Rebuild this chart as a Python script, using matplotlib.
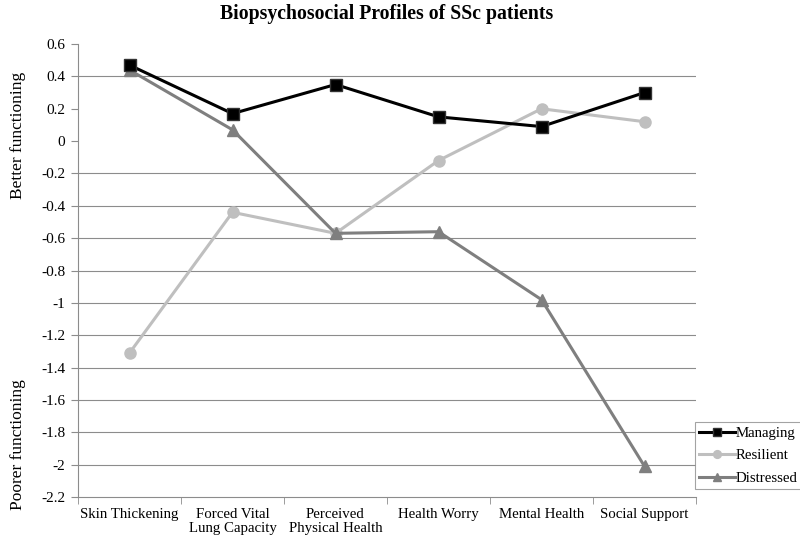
import matplotlib
matplotlib.use("Agg")
import matplotlib.pyplot as plt
import numpy as np

categories = ["Skin Thickening", "Forced Vital\nLung Capacity", "Perceived\nPhysical Health",
              "Health Worry", "Mental Health", "Social Support"]
managing = [0.47, 0.17, 0.35, 0.15, 0.09, 0.30]
resilient = [-1.31, -0.44, -0.57, -0.12, 0.20, 0.12]
distressed = [0.44, 0.07, -0.57, -0.56, -0.98, -2.01]
yticks = [0.6, 0.4, 0.2, 0, -0.2, -0.4, -0.6, -0.8, -1, -1.2, -1.4, -1.6, -1.8, -2, -2.2]
grid_vals = [0.4, -0.2, -0.4, -0.6, -0.8, -1, -1.2, -1.4, -1.6, -1.8, -2]

plt.rcParams['font.family'] = ['Liberation Serif', 'DejaVu Serif']

fig = plt.figure(figsize=(8, 5.44), dpi=100)
ax = fig.add_axes([0.0975, 0.0864, 0.7725, 0.8326])

x = np.arange(len(categories))
for g in grid_vals:
    ax.axhline(g, color='#8c8c8c', lw=0.8, zorder=0)

ax.plot(x, managing, color='black', lw=2.2, marker='s', ms=8, mfc='black', mec='#333333', label='Managing', zorder=4)
ax.plot(x, resilient, color='#bfbfbf', lw=2.2, marker='o', ms=8, mfc='#bfbfbf', mec='#bfbfbf', label='Resilient', zorder=3)
ax.plot(x, distressed, color='#7f7f7f', lw=2.2, marker='^', ms=8, mfc='#7f7f7f', mec='#7f7f7f', label='Distressed', zorder=3)

ax.set_xlim(-0.5, len(categories) - 0.5)
ax.set_ylim(-2.2, 0.6)
ax.set_yticks(yticks)
ax.set_yticklabels([f"{v:g}" for v in yticks], fontsize=11)
ax.set_xticks(x)
ax.set_xticklabels(categories, fontsize=10.7, linespacing=1.1)
ax.set_xticks(np.arange(-0.5, len(categories)), minor=True)
ax.tick_params(axis='x', which='major', length=0, pad=8)
ax.tick_params(axis='x', which='minor', length=5, color='#8c8c8c', direction='out')
ax.tick_params(axis='y', length=5, color='#8c8c8c', direction='out', pad=4)

for s in ['top', 'right']:
    ax.spines[s].set_visible(False)
ax.spines['left'].set_color('#8c8c8c')
ax.spines['bottom'].set_color('#8c8c8c')

ax.set_title("Biopsychosocial Profiles of SSc patients", fontsize=14.2, fontweight='bold', pad=18)

fig.text(0.022, 0.752, "Better functioning", rotation=90, ha='center', va='center', fontsize=12.5)
fig.text(0.022, 0.182, "Poorer functioning", rotation=90, ha='center', va='center', fontsize=12.5)

leg = ax.legend(loc='upper left', bbox_to_anchor=(0.998, 0.165), fontsize=10.7, frameon=True,
                fancybox=False, edgecolor='#8c8c8c', handlelength=2.4, handletextpad=0.05,
                borderpad=0.3, labelspacing=0.6, borderaxespad=0, markerscale=0.7)
leg.get_frame().set_linewidth(0.8)

fig.savefig("out.png", dpi=100)
